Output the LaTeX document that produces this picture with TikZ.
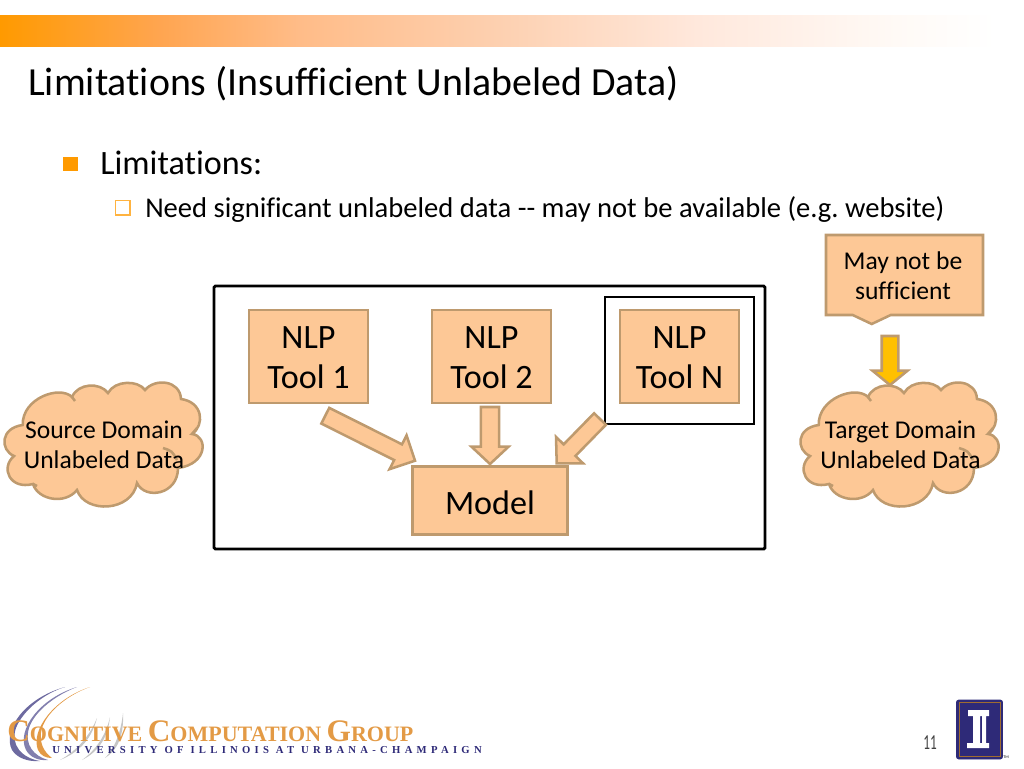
\documentclass[tikz,border=0pt]{standalone}
\usepackage{fontspec}
\setmainfont[Ligatures=NoCommon]{Carlito}
\newfontfamily\logofont[LetterSpace=0]{Liberation Serif}
\newfontfamily\logospaced[LetterSpace=40]{Liberation Serif}
\usetikzlibrary{calc}
\definecolor{boxfill}{HTML}{FDC896}
\definecolor{boxline}{HTML}{BE9A6E}
\definecolor{barorange}{HTML}{FF9A00}
\definecolor{barA}{HTML}{FFA550}
\definecolor{barB}{HTML}{FFBC88}
\definecolor{barC}{HTML}{FDD0B0}
\definecolor{barD}{HTML}{FFE8DC}
\definecolor{barE}{HTML}{FFFAF6}
\definecolor{arrowyellow}{HTML}{FFC000}
\definecolor{logoorange}{HTML}{E39A45}
\definecolor{logonavy}{HTML}{2E2A78}
\pgfdeclarehorizontalshading{barshade}{100bp}{color(0bp)=(barorange); color(25bp)=(barorange); color(33bp)=(barA); color(40bp)=(barB); color(50bp)=(barC); color(60bp)=(barD); color(70bp)=(barE); color(75bp)=(white); color(100bp)=(white)}
\tikzset{
  toolbox/.style={draw=boxline, fill=boxfill, line width=1.9pt, minimum width=89pt, minimum height=70pt, align=center, text height=48.5pt, font=\fontsize{25.6}{30}\selectfont},
  framebox/.style={draw=black, line width=2.2pt},
  cloudbox/.style={draw=boxline, fill=boxfill, line width=1.9pt},
  cloudtext/.style={align=center, font=\fontsize{19.2}{22.5}\selectfont, inner sep=0pt},
  blockbody/.style={draw=boxline, fill=boxfill, line width=1.9pt, line join=miter},
  blockyellow/.style={draw=boxline, fill=arrowyellow, line width=1.9pt},
}
% block arrow: style, tail, tip, half shaft, half head, head length
\newcommand{\blockarrow}[6]{
  \coordinate (HB) at ($(#3)!#6!(#2)$);
  \draw[#1] ($(#2)!#4!90:(#3)$) -- ($(HB)!#4!90:(#3)$) -- ($(HB)!#5!90:(#3)$) -- (#3)
    -- ($(HB)!#5!-90:(#3)$) -- ($(HB)!#4!-90:(#3)$) -- ($(#2)!#4!-90:(#3)$) -- cycle;
}
% cloud outline, in pixels of the left one
\newcommand{\cloudshape}[1]{
  \begin{scope}[shift={(#1,0)}]
    \draw[cloudbox] (14,456) .. controls (0,450) and (0,428) .. (22.7,425)
      .. controls (22,398) and (60,385) .. (72,397)
      .. controls (78,383) and (100,382) .. (108,393)
      .. controls (115,380) and (138,380) .. (145,390)
      .. controls (155,378) and (180,380) .. (181,399)
      .. controls (203,402) and (205,425) .. (192,434)
      .. controls (208,436) and (208,464) .. (178,468)
      .. controls (178,495) and (145,500) .. (137,483)
      .. controls (132,512) and (85,514) .. (77,490)
      .. controls (65,505) and (38,500) .. (33,484)
      .. controls (10,490) and (0,468) .. (14,456) -- cycle;
    \draw[draw=boxline, line width=1.9pt] (72,397) -- (75,401);
    \draw[draw=boxline, line width=1.9pt] (192,434) -- (197,428);
    \draw[draw=boxline, line width=1.9pt] (163,448) .. controls (172,451) .. (177,460);
    \draw[draw=boxline, line width=1.9pt] (33,484) -- (37,486);
  \end{scope}
}

\begin{document}
\frenchspacing
\begin{tikzpicture}[x=0.75pt, y=-0.75pt]
  \useasboundingbox (0,0) rectangle (1024,768);

  % header bar
  \shade[shading=barshade] (0,15) rectangle (996,46);
  \node[anchor=west, inner sep=0pt, font=\fontsize{29.87}{34}\selectfont] (TITLE) at (28,83.5) {Limitations (Insufficient Unlabeled Data)};

  % bullets
  \node[fill=barorange, minimum size=11.2pt, inner sep=0pt] (BULLETA) at (70.8,164) {};
  \node[anchor=west, inner sep=0pt, font=\fontsize{25.6}{30}\selectfont] (HEADA) at (100,163) {Limitations:};
  \node[draw=barorange!75, line width=1pt, minimum size=11pt, inner sep=0pt] (BULLETB) at (122.7,207.7) {};
  \node[anchor=west, inner sep=0pt, font=\fontsize{21.45}{26}\selectfont] (HEADB) at (145,209) {Need significant unlabeled data -{}- may not be available (e.g. website)};

  % frames
  \draw[framebox, rounded corners=1pt] (214,286) rectangle (765,549);
  \draw[framebox] (605,297) rectangle (754,424);

  % tools
  \node[toolbox] (TOOLA) at (308.5,356.5) {NLP\\Tool 1};
  \node[toolbox] (TOOLB) at (491.5,356.5) {NLP\\Tool 2};
  \node[toolbox] (TOOLN) at (679.5,356.5) {NLP\\Tool N};
  \node[toolbox, minimum width=116pt, minimum height=51pt, text height=21.7pt] (MODEL) at (490,500.5) {Model};

  % clouds
  \cloudshape{0}
  \cloudshape{796}
  \node[cloudtext] (SOURCE) at (104,445) {Source Domain\\Unlabeled Data};
  \node[cloudtext] (TARGET) at (900.5,445) {Target Domain\\Unlabeled Data};

  % callout
  \draw[cloudbox] (826,235) -- (983,235) -- (983,315) -- (890.7,315) -- (871.7,324) -- (852.7,315) -- (826,315) -- cycle;
  \node[cloudtext] (NOTE) at (903,275.5) {May not be\\sufficient};

  % block arrows
  \coordinate (TAILA) at (325.3,415.7);
  \coordinate (TIPA) at (415,460.7);
  \coordinate (TAILB) at (490,407);
  \coordinate (TIPB) at (490,464);
  \coordinate (TAILC) at (600,419);
  \coordinate (TIPC) at (556.7,463.3);
  \coordinate (TAILD) at (890,336);
  \coordinate (TIPD) at (890,385);
  \blockarrow{blockbody}{TAILA}{TIPA}{6.6pt}{14.2pt}{14.2pt}
  \blockarrow{blockbody}{TAILB}{TIPB}{6.8pt}{13.9pt}{13pt}
  \blockarrow{blockbody}{TAILC}{TIPC}{6.2pt}{14.2pt}{13.8pt}
  \blockarrow{blockyellow}{TAILD}{TIPD}{6.2pt}{13.1pt}{10.7pt}

  % logo
  \fill[logonavy!70!white] (65,687) .. controls (25,698) and (2,730) .. (12,750) .. controls (17,758) and (28,762) .. (40,761) .. controls (22,758) and (10,745) .. (16,728) .. controls (23,710) and (45,693) .. (65,687) -- cycle;
  \fill[logonavy!60!white] (77,687) .. controls (40,698) and (16,730) .. (26,750) .. controls (30,757) and (38,761) .. (48,760) .. controls (34,756) and (24,745) .. (29,728) .. controls (35,710) and (58,694) .. (77,687) -- cycle;
  \fill[logoorange] (90,687) .. controls (55,698) and (30,730) .. (38,750) .. controls (41,756) and (46,758) .. (52,758) .. controls (44,752) and (38,742) .. (42,728) .. controls (48,710) and (70,694) .. (90,687) -- cycle;
  \fill[gray!45] (97,718) .. controls (90,735) and (78,750) .. (60,760) .. controls (80,752) and (92,738) .. (97,718) -- cycle;
  \fill[gray!45] (110,717) .. controls (106,735) and (96,750) .. (82,760) .. controls (98,752) and (108,738) .. (110,717) -- cycle;
  \fill[gray!45] (123,713) .. controls (121,732) and (115,748) .. (105,758) .. controls (118,750) and (124,735) .. (123,713) -- cycle;
  \node[anchor=base west, inner sep=0pt, text=logoorange, font=\logofont\bfseries] (LOGOA) at (7,741) {\fontsize{23.5}{24}\selectfont C\fontsize{16.5}{24}\selectfont OGNITIVE \fontsize{23.5}{24}\selectfont C\fontsize{16.5}{24}\selectfont OMPUTATION \fontsize{23.5}{24}\selectfont G\fontsize{16.5}{24}\selectfont ROUP};
  \node[anchor=base west, inner sep=0pt, text=logonavy, font=\logospaced\bfseries\fontsize{8}{10}\selectfont] (LOGOB) at (52,753.5) {UNIVERSITY OF ILLINOIS AT URBANA-CHAMPAIGN};

  % page number and seal
  \node[inner sep=0pt, text=black!75, font=\fontsize{16}{18}\selectfont] (PAGENUM) at (930,743) {\scalebox{0.62}[1]{11}};
  \draw[fill=logonavy, draw=logonavy, rounded corners=1.5pt] (956.5,700) rectangle (1002.5,759);
  \draw[draw=logoorange!70!black, line width=0.7pt] (959,702.5) rectangle (1000,756.5);
  \fill[white] (968,710) rectangle (989,716) (973,716) rectangle (980,743) (982,716) rectangle (986,743) (967,743) rectangle (989,748);
  \node[inner sep=0pt, font=\fontsize{3}{4}\selectfont] (TMARK) at (1006,757) {TM};
\end{tikzpicture}
\end{document}
